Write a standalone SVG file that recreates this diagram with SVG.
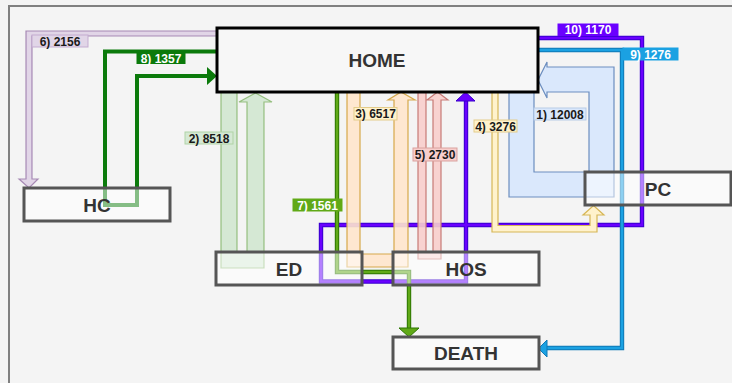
<svg xmlns="http://www.w3.org/2000/svg" width="732" height="383" viewBox="0 0 732 383">
<style>
.node rect{fill:#ffffff;fill-opacity:0.5;stroke:#555555;stroke-width:3}
.node text{font-family:"Liberation Sans",Arial,sans-serif;font-weight:bold;font-size:19px;fill:#333333;text-anchor:middle}
.band{stroke-width:1.2;stroke-linejoin:miter}
.lbl text{font-family:"Liberation Sans",Arial,sans-serif;font-weight:bold;font-size:12px;text-anchor:middle}
.lbl rect{stroke-width:1}
.dark{fill:#1a1a1a}
.light{fill:#ffffff}
</style>
<rect x="0" y="0" width="732" height="383" fill="#f4f4f4"/>
<rect x="9" y="6" width="740" height="400" fill="#f4f4f4" stroke="#808080" stroke-width="2"/>

<g id="connectors">
  <!-- 1) 12008 blue band -->
  <path id="e1" class="band" fill="#dae8fc" stroke="#6c8ebf" d="M509,92 V197 H614 V67 H547 V62 L538,80 L547,98 V92 H589 V172 H534 V92 Z"/>
  <!-- 2) 8518 green band -->
  <path id="e2" class="band" fill="#d5e8d4" stroke="#82b366" stroke-opacity="0.8" d="M221,92 V268 H264 V102 H272 L255.5,93 L239,102 H247 V252 H237 V92 Z"/>
  <!-- 6) 2156 purple band -->
  <path id="e6" class="band" fill="#e1d5e7" stroke="#9673a6" stroke-opacity="0.8" d="M217,31 H26 V179 H19 L29,188 L38,179 H32 V36 H217 Z"/>
  <!-- 8) 1357 dark green -->
  <g id="e8">
    <path d="M217,51.5 H105 V205 H137 V76 H208" fill="none" stroke="#0b7a0b" stroke-width="4"/>
    <polygon points="207,67 217,76 207,85" fill="#0b7a0b"/>
  </g>
  <!-- 10) 1170 purple line -->
  <g id="e10">
    <path d="M538,38 H642 V225 H321 V281.5 H466 V100" fill="none" stroke="#3700cc" stroke-width="4.4"/>
    <path d="M538,38 H642 V225 H321 V281.5 H466 V100" fill="none" stroke="#6a00ff" stroke-width="2.4"/>
    <polygon points="456,101 475,101 465.5,92" fill="#6a00ff" stroke="#3700cc" stroke-width="1"/>
  </g>
  <!-- 3) 6517 orange band -->
  <path id="e3" class="band" fill="#ffe6cc" fill-opacity="0.9" stroke="#d6a84a" d="M347,92 V267 H408 V100 H415 L401,92 L388,100 H394 V254 H360 V92 Z"/>
  <!-- 5) 2730 red band -->
  <path id="e5" class="band" fill="#f8cecc" fill-opacity="0.9" stroke="#c77a76" d="M418,92 V259 H441 V100 H448 L437.5,92 L427,100 H433 V252 H426 V92 Z"/>
  <!-- 4) 3276 cream band -->
  <path id="e4" class="band" fill="#fff2cc" stroke="#d6b656" d="M492,92 V232 H597 V215 H604 L593.5,205.5 L583,215 H590 V225.5 H498 V92 Z"/>
  <!-- 9) 1276 blue line -->
  <g id="e9">
    <path d="M538,50 H622 V348 H547" fill="none" stroke="#0f78b5" stroke-width="4.4"/>
    <path d="M538,50 H622 V348 H547" fill="none" stroke="#1ba1e2" stroke-width="2.4"/>
    <polygon points="547,340 547,357 538.5,348.5" fill="#1ba1e2" stroke="#0f78b5" stroke-width="1"/>
  </g>
  <!-- 7) 1561 green line -->
  <g id="e7">
    <path d="M337,92 V272 H409 V329" fill="none" stroke="#2d7600" stroke-width="4.4"/>
    <path d="M337,92 V272 H409 V329" fill="none" stroke="#60a917" stroke-width="2.4"/>
    <polygon points="399,328 419,328 409,337" fill="#60a917" stroke="#2d7600" stroke-width="1"/>
  </g>
</g>

<g id="edge-labels" class="lbl">
  <g><rect x="32" y="35" width="56" height="12" fill="#e1d5e7" stroke="#c3abd0"/><text x="60" y="45.5" class="dark">6) 2156</text></g>
  <g><rect x="137" y="52.5" width="48" height="11" fill="#0b7a0b" stroke="#0b7a0b"/><text x="161" y="62.5" class="light">8) 1357</text></g>
  <g><rect x="558" y="24" width="60" height="11.5" fill="#6a00ff" stroke="#6a00ff"/><text x="588" y="34" class="light">10) 1170</text></g>
  <g><rect x="623" y="48" width="55" height="12" fill="#1ba1e2" stroke="#1ba1e2"/><text x="650.5" y="58.5" class="light">9) 1276</text></g>
  <g><rect x="534" y="108" width="52" height="12" fill="#dae8fc" stroke="#b7cbe6"/><text x="560" y="118.5" class="dark">1) 12008</text></g>
  <g><rect x="185" y="132" width="48" height="12" fill="#d5e8d4" stroke="#b0d3a6"/><text x="209" y="142.5" class="dark">2) 8518</text></g>
  <g><rect x="354" y="107.5" width="43" height="12.5" fill="#fff2cc" stroke="#e3cc8a"/><text x="375.5" y="118.3" class="dark">3) 6517</text></g>
  <g><rect x="474" y="120" width="43" height="12" fill="#fff2cc" stroke="#e3cc8a"/><text x="495.5" y="130.5" class="dark">4) 3276</text></g>
  <g><rect x="413" y="148" width="44" height="13" fill="#f8cecc" stroke="#d9a19e"/><text x="435" y="159" class="dark">5) 2730</text></g>
  <g><rect x="293" y="199" width="49" height="12" fill="#60a917" stroke="#60a917"/><text x="317.5" y="209.5" class="light">7) 1561</text></g>
</g>

<g id="HOME" class="node"><rect x="217" y="28" width="321" height="64" style="stroke:#000000;fill:#f7f7f7;fill-opacity:1"/><text x="377" y="67">HOME</text></g>
<g id="HC" class="node"><rect x="24" y="188" width="146" height="33"/><text x="97" y="211.5">HC</text></g>
<g id="ED" class="node"><rect x="216" y="252" width="146" height="33"/><text x="289" y="275.5">ED</text></g>
<g id="HOS" class="node"><rect x="393" y="252" width="146" height="33"/><text x="466" y="275.5">HOS</text></g>
<g id="PC" class="node"><rect x="585" y="172" width="146" height="33"/><text x="658" y="195.5">PC</text></g>
<g id="DEATH" class="node"><rect x="393" y="337" width="146" height="32"/><text x="466" y="359.5">DEATH</text></g>
</svg>
